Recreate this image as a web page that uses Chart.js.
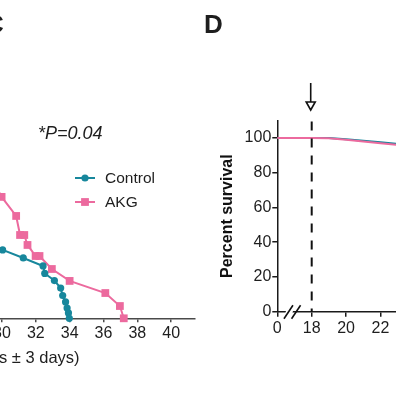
<!DOCTYPE html>
<html><head><meta charset="utf-8">
<script src="https://cdn.jsdelivr.net/npm/chart.js@4"></script>
<style>
html,body{margin:0;padding:0;background:#fff;overflow:hidden;width:396px;height:396px;}
#wrap{position:relative;width:396px;height:396px;overflow:hidden;font-family:"Liberation Sans",Arial,sans-serif;color:#1e1e1e;}
#c1{position:absolute;left:-40px;top:0;}
#c2{position:absolute;left:200px;top:0;}
.t{position:absolute;white-space:nowrap;line-height:1;}
</style></head><body>
<div id="wrap">
<canvas id="c1" width="240" height="396"></canvas>
<canvas id="c2" width="196" height="396"></canvas>
<div class="t" style="left:-15px;top:11px;font-weight:bold;font-size:26px;">C</div>
<div class="t" style="left:204px;top:11px;font-weight:bold;font-size:26px;">D</div>
<div class="t" style="left:38px;top:124px;font-style:italic;font-size:18px;">*P=0.04</div>
<div class="t" style="left:-1px;top:349px;font-size:16.5px;">s ± 3 days)</div>
</div>
<script>
// ---- Panel C (partially visible): survival vs age in days ----
const seriesNames = ['Control', 'AKG'];
const ctrlDays = [29.5, 30.04, 31.26, 32.43, 32.53, 33.10, 33.47, 33.59, 33.76, 33.85, 33.93, 33.98];
const ctrlSurv = [41, 38.4, 33.9, 29.4, 25.2, 21.2, 17.0, 12.8, 9.2, 5.8, 3.0, 0];
const akgDays  = [29.6, 29.98, 30.84, 31.07, 31.32, 31.51, 31.99, 32.22, 32.95, 34.0, 36.11, 36.97, 37.2];
const akgSurv  = [75, 68.2, 57.5, 46.8, 46.8, 41.2, 35.0, 35.0, 27.7, 21.0, 14.2, 6.9, 0];
const cTickValues = [30, 32, 34, 36, 38, 40];

// ---- Panel D (partially visible): percent survival ----
const dDays = [0, 18, 19, 20, 21, 22, 23];
const dCtrl = [100, 100, 100, 99.2, 98.4, 97.5, 96.5];
const dAkg  = [100, 100, 99.9, 99.0, 98.0, 97.0, 96.0];
const dYTicks = [0, 20, 40, 60, 80, 100];
const dXTicks = [0, 18, 20, 22];
const treatmentDay = 18;
const breakOrigin = 16; // axis position where day 0 sits (broken axis)

const TEAL = '#17879c';
const PINK = '#ec6a9e';
const FONT = "'Liberation Sans', Arial, sans-serif";
Chart.defaults.font.family = FONT;
Chart.defaults.color = '#1e1e1e';

const pts = (xs, ys) => xs.map((x, i) => ({x: x, y: ys[i]}));

// legend drawn on the canvas for panel C
const legendC = {
  id: 'legendC',
  afterDraw(chart) {
    const ctx = chart.ctx;
    const off = 40;
    const rows = [178, 202];
    chart.data.datasets.forEach((ds, i) => {
      const y = rows[i];
      ctx.save();
      ctx.strokeStyle = ds.borderColor; ctx.lineWidth = 2;
      ctx.beginPath(); ctx.moveTo(off + 75, y); ctx.lineTo(off + 95, y); ctx.stroke();
      ctx.fillStyle = ds.borderColor;
      if (ds.pointStyle === 'rect') { ctx.fillRect(off + 85 - 3.9, y - 3.9, 7.8, 7.8); }
      else { ctx.beginPath(); ctx.arc(off + 85, y, 3.6, 0, Math.PI * 2); ctx.fill(); }
      ctx.fillStyle = '#1e1e1e';
      ctx.font = '15.5px ' + FONT;
      ctx.textBaseline = 'middle';
      ctx.fillText(ds.label, off + 105, y + 0.5);
      ctx.restore();
    });
  }
};

new Chart(document.getElementById('c1'), {
  type: 'line',
  data: {
    datasets: [
      {label: seriesNames[0], data: pts(ctrlDays, ctrlSurv), borderColor: TEAL, backgroundColor: TEAL,
       borderWidth: 2, pointStyle: 'circle', pointRadius: 3.6, pointBorderWidth: 0, pointBackgroundColor: TEAL, tension: 0, clip: false},
      {label: seriesNames[1], data: pts(akgDays, akgSurv), borderColor: PINK, backgroundColor: PINK,
       borderWidth: 2, pointStyle: 'rect', pointRadius: 5.5, pointBorderWidth: 0, pointBackgroundColor: PINK, tension: 0, clip: false}
    ]
  },
  options: {
    responsive: false, animation: false,
    layout: {padding: {left: 40, top: 140.3, right: 0, bottom: 0}},
    plugins: {legend: {display: false}, tooltip: {enabled: false}},
    scales: {
      x: {type: 'linear', min: 29.885, max: 41.38,
          afterFit: s => { s.height = 396 - 318.3; },
          afterBuildTicks: s => { s.ticks = cTickValues.map(v => ({value: v})); },
          border: {display: true, color: '#4a4a4a', width: 1.5},
          grid: {drawOnChartArea: false, drawTicks: true, tickLength: 4, color: '#4a4a4a', lineWidth: 1.5},
          ticks: {font: {size: 16}, color: '#1e1e1e', padding: 2, maxRotation: 0, autoSkip: false}},
      y: {type: 'linear', min: 0, max: 100, display: false}
    }
  },
  plugins: [legendC]
});

// decorations for panel D: treatment marker and axis break
const decoD = {
  id: 'decoD',
  afterDatasetsDraw(chart) {
    const {ctx, chartArea, scales: {x}} = chart;
    const px = x.getPixelForValue(treatmentDay);
    ctx.save();
    ctx.strokeStyle = '#111'; ctx.lineWidth = 2;
    ctx.setLineDash([9, 8]);
    ctx.beginPath(); ctx.moveTo(px, chartArea.top + 1); ctx.lineTo(px, chartArea.bottom); ctx.stroke();
    ctx.setLineDash([]);
    ctx.lineWidth = 1.6;
    ctx.beginPath(); ctx.moveTo(px - 1, 83); ctx.lineTo(px - 1, 102); ctx.stroke();
    ctx.beginPath(); ctx.moveTo(px - 5.5, 102); ctx.lineTo(px + 3.5, 102); ctx.lineTo(px - 1, 110); ctx.closePath();
    ctx.fillStyle = '#fff'; ctx.fill(); ctx.stroke();
    // axis break
    const ay = chartArea.bottom;
    const bx = x.getPixelForValue(16.87);
    ctx.fillStyle = '#fff';
    ctx.beginPath();
    ctx.moveTo(bx - 7.5, ay + 3); ctx.lineTo(bx - 0.5, ay + 3); ctx.lineTo(bx + 1.5, ay - 3); ctx.lineTo(bx - 5.5, ay - 3);
    ctx.closePath(); ctx.fill();
    ctx.strokeStyle = '#111'; ctx.lineWidth = 1.6;
    [-3.8, 3.8].forEach(d => {
      ctx.beginPath(); ctx.moveTo(bx + d - 4.5, ay + 7); ctx.lineTo(bx + d + 4.5, ay - 6.5); ctx.stroke();
    });
    ctx.restore();
  }
};

const axisPos = d => (d === 0 ? breakOrigin : d);

new Chart(document.getElementById('c2'), {
  type: 'line',
  data: {
    datasets: [
      {label: seriesNames[1], data: pts(dDays.map(axisPos), dAkg), borderColor: PINK, borderWidth: 2,
       pointRadius: 0, tension: 0, clip: false},
      {label: seriesNames[0], data: pts(dDays.map(axisPos), dCtrl), borderColor: TEAL, borderWidth: 2,
       pointRadius: 0, tension: 0, clip: false}
    ]
  },
  options: {
    responsive: false, animation: false,
    layout: {padding: {left: 0, top: 120.6, right: 0, bottom: 0}},
    plugins: {legend: {display: false}, tooltip: {enabled: false}},
    scales: {
      x: {type: 'linear', min: breakOrigin, max: 22.9,
          afterFit: s => { s.height = 396 - 311.7; },
          afterBuildTicks: s => { s.ticks = dXTicks.map(v => ({value: axisPos(v)})); },
          border: {display: true, color: '#1a1a1a', width: 1.5},
          grid: {drawOnChartArea: false, drawTicks: true, tickLength: 5, color: '#1a1a1a', lineWidth: 1.5},
          ticks: {font: {size: 16}, color: '#1e1e1e', padding: 2, maxRotation: 0, autoSkip: false,
                  callback: v => (v === breakOrigin ? '0' : String(v))}},
      y: {type: 'linear', min: 0, max: 110,
          afterFit: s => { s.width = 77.3; },
          afterBuildTicks: s => { s.ticks = dYTicks.map(v => ({value: v})); },
          border: {display: true, color: '#1a1a1a', width: 1.5},
          grid: {drawOnChartArea: false, drawTicks: true, tickLength: 5, color: '#1a1a1a', lineWidth: 1.5},
          ticks: {font: {size: 16}, color: '#1e1e1e', padding: 1, autoSkip: false},
          title: {display: true, text: 'Percent survival', font: {size: 16, weight: 'bold'}, color: '#111',
                  padding: {top: 18, bottom: 0}}}
    }
  },
  plugins: [decoD]
});
</script>
</body></html>
